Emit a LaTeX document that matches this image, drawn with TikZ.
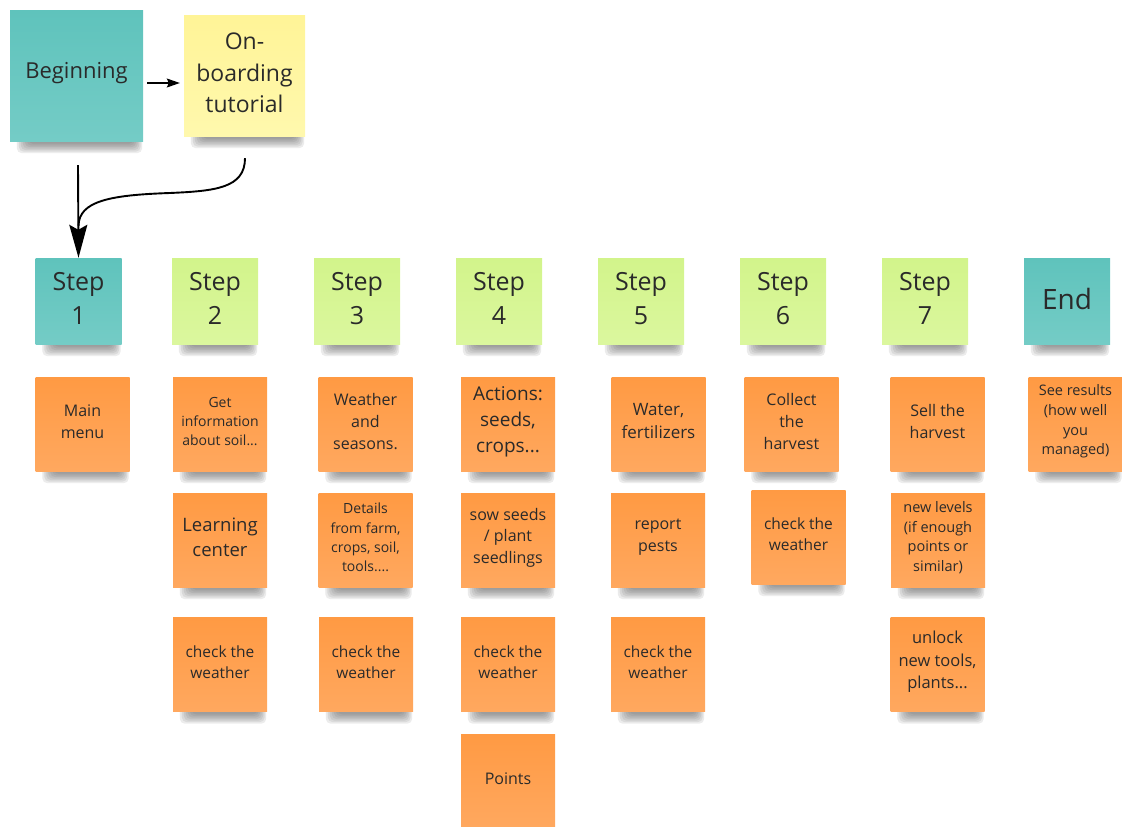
\documentclass[tikz,border=0pt]{standalone}
\usepackage{fontspec}
\setmainfont{Open Sans}
\usetikzlibrary{arrows.meta,calc}

\definecolor{tealtop}{HTML}{5FC3BC}
\definecolor{tealbot}{HTML}{74CCC6}
\definecolor{greentop}{HTML}{D2F48B}
\definecolor{greenbot}{HTML}{DBF79E}
\definecolor{yellowtop}{HTML}{FFF497}
\definecolor{yellowbot}{HTML}{FFF8AD}
\definecolor{orangetop}{HTML}{FF9A43}
\definecolor{orangebot}{HTML}{FFA85F}
\definecolor{ink}{HTML}{2A2A2A}
\definecolor{shade}{HTML}{303030}

\pgfdeclarelayer{shadowlayer}
\pgfsetlayers{shadowlayer,main}

% soft shadow under the lower edge of a sticky note
\newcommand\castshadow[1]{%
  \foreach \k in {0,...,6}{%
    \fill[shade, fill opacity=0.08, rounded corners=5pt]
      ($(#1.south west)+(7+2*\k,-14)$) rectangle ($(#1.south east)+(-1-1.5*\k,12-1.5*\k)$);
  }}

\newcommand\fs[2]{\fontsize{#1}{#2}\selectfont}

% a sticky note: style, name, centre, font, text
\newcommand\sticky[5]{%
  \node[#1, label={[notetext, font=#4]center:{#5}}] (#2) at (#3) {};}

\tikzset{
  sticky/.style={inner sep=0pt, minimum width=94pt, minimum height=94pt},
  notetext/.style={align=center, text=ink, inner sep=0pt, yshift=2.5pt},
  tealnote/.style={sticky, top color=tealtop, bottom color=tealbot},
  greennote/.style={sticky, top color=greentop, bottom color=greenbot},
  yellownote/.style={sticky, top color=yellowtop, bottom color=yellowbot},
  orangenote/.style={sticky, top color=orangetop, bottom color=orangebot},
  stepnote/.style={minimum width=86pt, minimum height=86pt},
  flow/.style={draw=black, line width=1.9pt,
    -{Stealth[length=33pt,width=18pt,inset=5pt]}},
  thinflow/.style={draw=black, line width=1.3pt,
    -{Stealth[length=13pt,width=9pt,inset=2pt]}},
}

\begin{document}
\begin{tikzpicture}[x=1pt, y=-1pt]
\useasboundingbox (0,0) rectangle (1122,827);

% start of the flow
\sticky{tealnote, minimum width=133pt, minimum height=131pt}{begin}{76.5,75.5}{\fs{22}{30}}{Beginning}
\sticky{yellownote, minimum width=121pt, minimum height=121pt}{onb}{244.5,75.5}{\fs{23}{31.5}}{On-\\boarding\\tutorial}

% step headers
\sticky{tealnote, stepnote}{step1}{78.5,301}{\fs{25}{34}}{Step\\1}
\sticky{greennote, stepnote}{step2}{215,301}{\fs{25}{34}}{Step\\2}
\sticky{greennote, stepnote}{step3}{357,301}{\fs{25}{34}}{Step\\3}
\sticky{greennote, stepnote}{step4}{499,301}{\fs{25}{34}}{Step\\4}
\sticky{greennote, stepnote}{step5}{641,301}{\fs{25}{34}}{Step\\5}
\sticky{greennote, stepnote}{step6}{783,301}{\fs{25}{34}}{Step\\6}
\sticky{greennote, stepnote}{step7}{925,301}{\fs{25}{34}}{Step\\7}
\sticky{tealnote, stepnote}{stepend}{1067,301}{\fs{28}{34}}{End}

% first row of tasks
\sticky{orangenote}{mainmenu}{82.5,424}{\fs{16}{22}}{Main\\menu}
\sticky{orangenote}{soilinfo}{220,424}{\fs{14}{19}}{Get\\information\\about soil...}
\sticky{orangenote}{seasons}{365.5,424}{\fs{16}{22}}{Weather\\and\\seasons.}
\sticky{orangenote}{actions}{508,424}{\fs{19}{26}}{Actions:\\seeds,\\crops...}
\sticky{orangenote}{water}{658.5,424}{\fs{17}{23}}{Water,\\fertilizers}
\sticky{orangenote}{collect}{791.5,424}{\fs{16}{22}}{Collect\\the\\harvest}
\sticky{orangenote}{sell}{937.5,424}{\fs{16}{22}}{Sell the\\harvest}
\sticky{orangenote}{results}{1075.5,424}{\fs{14.5}{19.7}}{See results\\(how well\\you\\managed)}

% second row of tasks
\sticky{orangenote}{learning}{220,540}{\fs{18.5}{25}}{Learning\\center}
\sticky{orangenote}{details}{365.5,540}{\fs{14}{19.3}}{Details\\from farm,\\crops, soil,\\tools....}
\sticky{orangenote}{sow}{508,540}{\fs{16}{21.5}}{sow seeds\\/ plant\\seedlings}
\sticky{orangenote}{pests}{658,540}{\fs{16}{22}}{report\\pests}
\sticky{orangenote}{weathersix}{798.5,537}{\fs{15.5}{21}}{check the\\weather}
\sticky{orangenote}{levels}{938,540}{\fs{14.5}{19.7}}{new levels\\(if enough\\points or\\similar)}

% third row of tasks
\sticky{orangenote}{weathertwo}{220,664.5}{\fs{15.5}{21}}{check the\\weather}
\sticky{orangenote}{weatherthree}{366,664.5}{\fs{15.5}{21}}{check the\\weather}
\sticky{orangenote}{weatherfour}{508,664.5}{\fs{15.5}{21}}{check the\\weather}
\sticky{orangenote}{weatherfive}{658,664.5}{\fs{15.5}{21}}{check the\\weather}
\sticky{orangenote}{unlock}{937.5,664.5}{\fs{16.5}{22.5}}{unlock\\new tools,\\plants...}

% fourth row
\sticky{orangenote}{points}{508,781}{\fs{16}{22}}{Points}

% shadows behind every note
\begin{pgfonlayer}{shadowlayer}
  \foreach \n in {begin,onb,step1,step2,step3,step4,step5,step6,step7,stepend,
    mainmenu,soilinfo,seasons,actions,water,collect,sell,results,
    learning,details,sow,pests,weathersix,levels,
    weathertwo,weatherthree,weatherfour,weatherfive,unlock,points}{\castshadow{\n}}
\end{pgfonlayer}

% connectors
\draw[thinflow] ($(begin.east)+(4,7.5)$) -- ($(onb.west)+(-4,7.5)$);
\draw[flow] ($(begin.south)+(1.5,24)$) -- (step1.north);
\coordinate (merge) at ($(step1.north)+(0,-32)$);
\draw[line width=1.9pt] ($(onb.south)+(0.5,22)$)
  .. controls ($(onb.south)+(0.5,52)$) and (215,191) .. (170,193)
  .. controls (110,195) and (79,201) .. (merge);
\end{tikzpicture}
\end{document}
